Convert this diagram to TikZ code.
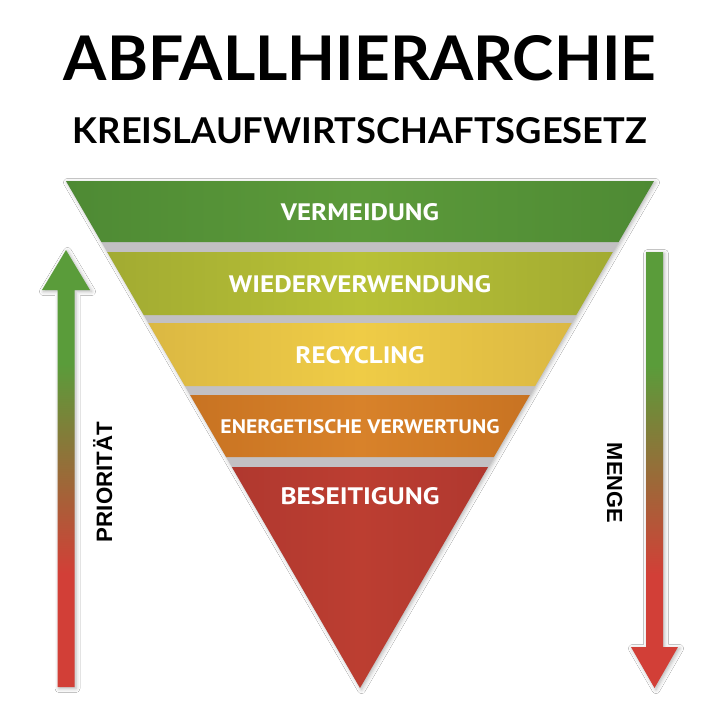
\documentclass[tikz,border=0pt]{standalone}
\usepackage{fontspec}
\setmainfont{Lato}
\newfontfamily\bandfont{PT Sans}
\newfontfamily\sidefont{Liberation Sans}
\usetikzlibrary{shadows.blur}
\definecolor{gA}{HTML}{5A9C3A}
\definecolor{rA}{HTML}{D23F37}
\definecolor{gapgray}{HTML}{C2C0C3}
\definecolor{b1e}{HTML}{4E8A34}
\definecolor{b1m}{HTML}{5C9A3A}
\definecolor{b2e}{HTML}{A2AB32}
\definecolor{b2m}{HTML}{B8C136}
\definecolor{b3e}{HTML}{DBB843}
\definecolor{b3m}{HTML}{EFCC46}
\definecolor{b4e}{HTML}{C87322}
\definecolor{b4m}{HTML}{D8822A}
\definecolor{b5e}{HTML}{B0382F}
\definecolor{b5m}{HTML}{BC3E31}
\pgfdeclareverticalshading{arrowshade}{100bp}{color(0bp)=(rA); color(25bp)=(rA); color(38bp)=(rA); color(62bp)=(gA); color(75bp)=(gA); color(100bp)=(gA)}
\begin{document}
\begin{tikzpicture}[x=1pt,y=-1pt,
  softshadow/.style={blur shadow={shadow xshift=1.5pt, shadow yshift=-1.5pt, shadow blur radius=4pt, shadow opacity=30}},
  bandstyle/.style 2 args={left color=#1, right color=#1, middle color=#2},
  bandlabel/.style={anchor=base, inner sep=0pt, text=white, font=\bandfont\bfseries},
  titlestyle/.style={anchor=base, inner sep=0pt, text=black, font=\bfseries},
  sidelabel/.style={anchor=base, inner sep=0pt, text=black, font=\sidefont\bfseries},
  arrowbody/.style={shading=arrowshade, softshadow}]
\useasboundingbox (0,0) rectangle (720,720);
\fill[white] (0,0) rectangle (720,720);

% titles
\node[titlestyle] (title) at (360,80) {\resizebox{592pt}{45pt}{ABFALLHIERARCHIE}};
\node[titlestyle] (subtitle) at (360,143) {\resizebox{574pt}{26pt}{KREISLAUFWIRTSCHAFTSGESETZ}};

% pyramid base (gaps)
\path[fill=gapgray, softshadow] (66,181) -- (654,181) -- (360,688) -- cycle;

% bands
\path[bandstyle={b1e}{b1m}] (66,181) -- (654,181) -- (618.6,242) -- (101.4,242) -- cycle;
\path[bandstyle={b2e}{b2m}] (107.2,252) -- (612.8,252) -- (576.3,315) -- (143.7,315) -- cycle;
\path[bandstyle={b3e}{b3m}] (148.3,323) -- (571.7,323) -- (535.1,386) -- (184.9,386) -- cycle;
\path[bandstyle={b4e}{b4m}] (190.1,395) -- (529.9,395) -- (493.9,457) -- (226.1,457) -- cycle;
\path[bandstyle={b5e}{b5m}] (231.9,467) -- (488.1,467) -- (360,688) -- cycle;

% band labels
\node[bandlabel] (l1) at (360,220) {\resizebox{158pt}{17pt}{VERMEIDUNG}};
\node[bandlabel] (l2) at (360,292) {\resizebox{262pt}{17pt}{WIEDERVERWENDUNG}};
\node[bandlabel] (l3) at (360,363) {\resizebox{129pt}{17pt}{RECYCLING}};
\node[bandlabel] (l4) at (360,433) {\resizebox{279pt}{14pt}{ENERGETISCHE VERWERTUNG}};
\node[bandlabel] (l5) at (360,504.5) {\resizebox{159pt}{17pt}{BESEITIGUNG}};

% arrows
\path[arrowbody] (57.5,687) -- (57.5,290) -- (42,290) -- (66,250) -- (90,290) -- (74.5,290) -- (74.5,687) -- cycle;
\path[arrowbody] (646,252) -- (663,252) -- (663,647) -- (678,647) -- (654.5,688) -- (631,647) -- (646,647) -- cycle;

% side labels
\node[sidelabel, rotate=90] (prio) at (112,482) {\resizebox{120pt}{!}{PRIORITÄT}};
\node[sidelabel, rotate=-90] (menge) at (607,483) {\resizebox{80pt}{!}{MENGE}};
\end{tikzpicture}
\end{document}
